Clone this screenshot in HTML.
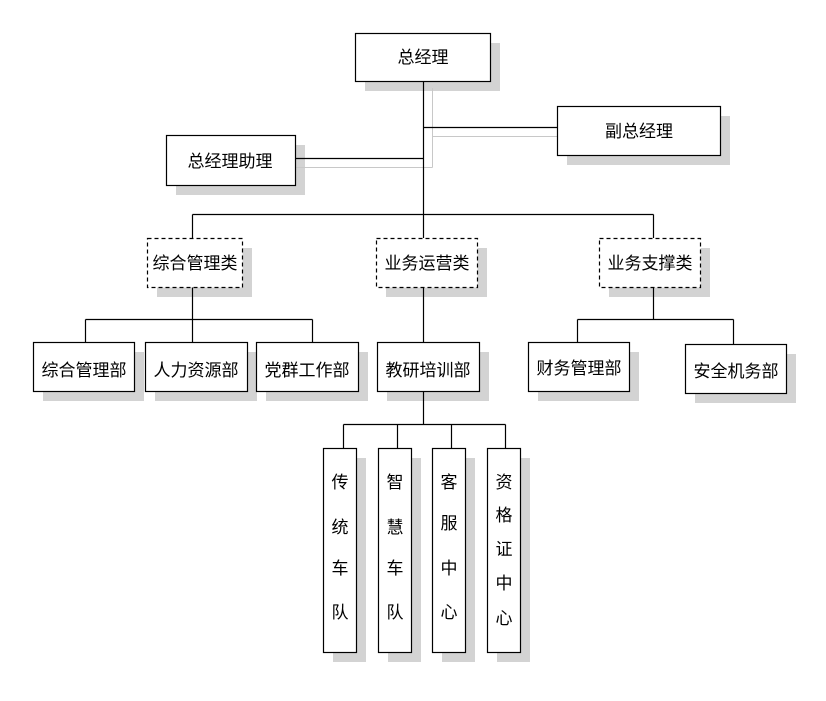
<!DOCTYPE html>
<html><head><meta charset="utf-8"><style>
body{margin:0;background:#fff;}
svg text{font-family:"Liberation Sans","Noto Sans CJK SC",sans-serif;font-size:17px;fill:#000;text-anchor:middle;}
</style></head><body>
<svg width="826" height="696" xmlns="http://www.w3.org/2000/svg">
<g fill="#d3d3d3">
<rect x="365" y="43" width="135" height="48"/>
<rect x="567" y="116" width="163" height="49"/>
<rect x="176" y="145" width="129" height="50"/>
<rect x="157" y="248" width="95" height="49"/>
<rect x="386" y="248" width="101" height="49"/>
<rect x="609" y="248" width="101" height="49"/>
<rect x="43" y="352" width="101" height="49"/>
<rect x="155" y="352" width="102" height="49"/>
<rect x="266" y="352" width="102" height="49"/>
<rect x="387" y="352" width="102" height="49"/>
<rect x="538" y="352" width="101" height="49"/>
<rect x="695" y="354" width="101" height="49"/>
<rect x="333" y="458" width="33" height="204"/>
<rect x="388" y="458" width="33" height="204"/>
<rect x="442" y="458" width="33" height="204"/>
<rect x="497" y="458" width="33" height="204"/>
</g>
<g stroke="#c8c8c8" stroke-width="1" fill="none">
<path d="M432.5 88V167.5M432.5 136.5H562M296 167.5H432.5"/>
</g>
<g stroke="#000" stroke-width="1.2" fill="none">
<path d="M423.5 81V238M423.5 127.5H557M296 158.5H423.5"/>
<path d="M192.5 214.5H653.5M192.5 214.5V238M653.5 214.5V238"/>
<path d="M192.5 287V342M85.5 319.5H312.5M85.5 319.5V342M312.5 319.5V342"/>
<path d="M423.5 287V342"/>
<path d="M653.5 287V319.5M577.5 319.5H733.5M577.5 319.5V342M733.5 319.5V344"/>
<path d="M423.5 391V424.5M343.5 424.5H505.5M343.5 424.5V448M397.5 424.5V448M451.5 424.5V448M505.5 424.5V448"/>
</g>
<g stroke="#000" stroke-width="1.2" fill="#fff">
<rect x="355.5" y="33.5" width="135" height="48"/>
<rect x="557.5" y="106.5" width="163" height="49"/>
<rect x="166.5" y="135.5" width="129" height="50"/>
<rect x="33.5" y="342.5" width="101" height="49"/>
<rect x="145.5" y="342.5" width="102" height="49"/>
<rect x="256.5" y="342.5" width="102" height="49"/>
<rect x="377.5" y="342.5" width="102" height="49"/>
<rect x="528.5" y="342.5" width="101" height="49"/>
<rect x="685.5" y="344.5" width="101" height="49"/>
<rect x="323.5" y="448.5" width="33" height="204"/>
<rect x="378.5" y="448.5" width="33" height="204"/>
<rect x="432.5" y="448.5" width="33" height="204"/>
<rect x="487.5" y="448.5" width="33" height="204"/>
</g>
<g stroke="#000" stroke-width="1.2" fill="#fff" stroke-dasharray="4,3">
<rect x="147.5" y="238.5" width="95" height="49"/>
<rect x="376.5" y="238.5" width="101" height="49"/>
<rect x="599.5" y="238.5" width="101" height="49"/>
</g>
<text x="423" y="63">总经理</text>
<text x="639" y="137">副总经理</text>
<text x="230" y="167">总经理助理</text>
<text x="195" y="269">综合管理类</text>
<text x="427" y="269">业务运营类</text>
<text x="650" y="269">业务支撑类</text>
<text x="84" y="376">综合管理部</text>
<text x="196" y="376">人力资源部</text>
<text x="307" y="376">党群工作部</text>
<text x="428" y="376">教研培训部</text>
<text x="579" y="374">财务管理部</text>
<text x="736" y="377">安全机务部</text>
<g>
<text x="340" y="488">传</text><text x="340" y="533">统</text><text x="340" y="574">车</text><text x="340" y="618">队</text>
<text x="395" y="488">智</text><text x="395" y="533">慧</text><text x="395" y="574">车</text><text x="395" y="618">队</text>
<text x="449" y="488">客</text><text x="449" y="529">服</text><text x="449" y="574">中</text><text x="449" y="618">心</text>
<text x="504" y="488">资</text><text x="504" y="521">格</text><text x="504" y="555">证</text><text x="504" y="589">中</text><text x="504" y="624">心</text>
</g>
</svg>
</body></html>
